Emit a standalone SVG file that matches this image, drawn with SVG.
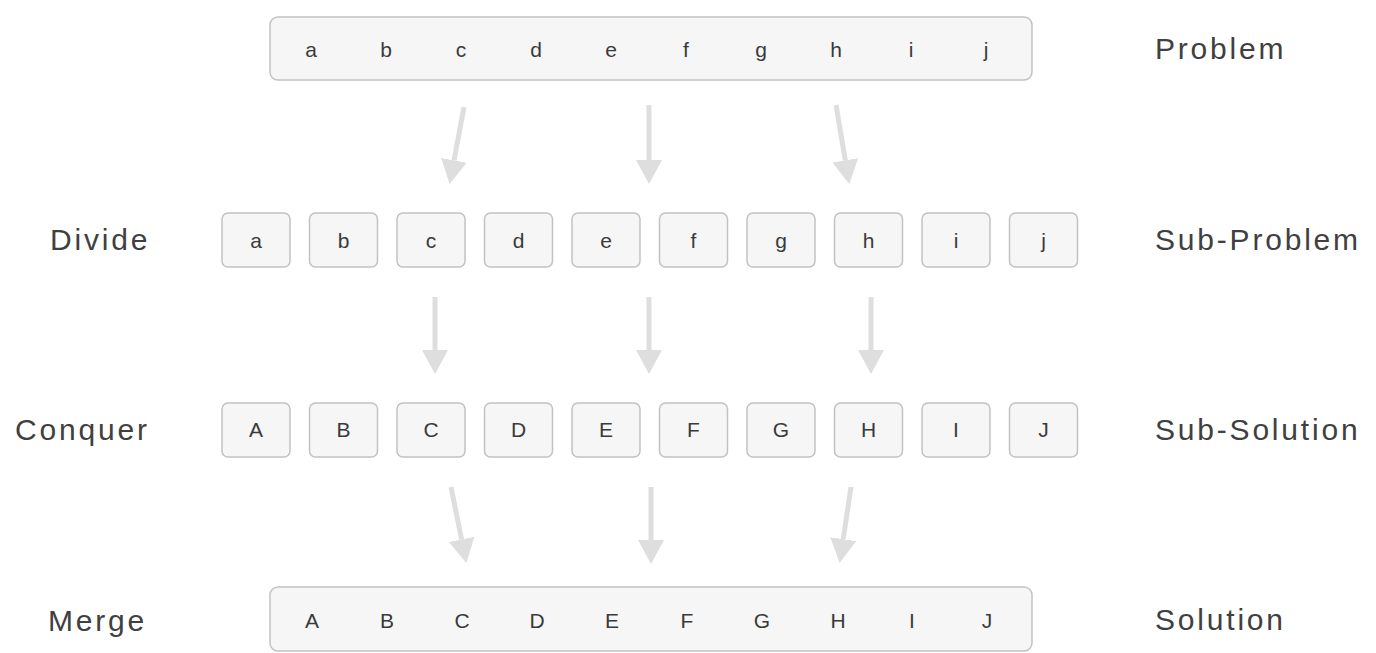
<svg xmlns="http://www.w3.org/2000/svg" width="1376" height="653" viewBox="0 0 1376 653">
<style>
.bg{fill:#ffffff}
.box{fill:#f6f6f6;stroke:#c2c2c2;stroke-width:1.5}
.ch{font-family:"Liberation Sans",Arial,sans-serif;font-size:21px;fill:#3a3a3a;text-anchor:middle}
.lab{font-family:"Liberation Sans",Arial,sans-serif;font-size:30px;letter-spacing:2.8px;fill:#404040}
.arr{stroke:#dedede;stroke-width:5;fill:none;marker-end:url(#ah)}
</style>
<defs>
<marker id="ah" markerUnits="userSpaceOnUse" markerWidth="24" markerHeight="26" refX="0" refY="13" orient="auto" viewBox="0 0 24 26">
<path d="M0,0 L24,13 L0,26 z" fill="#dedede"/>
</marker>
</defs>
<rect class="bg" x="0" y="0" width="1376" height="653"/>

<g id="labels">
<text class="lab" x="1155" y="59">Problem</text>
<text class="lab" x="50" y="250">Divide</text>
<text class="lab" x="1155" y="250">Sub-Problem</text>
<text class="lab" x="15" y="440">Conquer</text>
<text class="lab" x="1155" y="440">Sub-Solution</text>
<text class="lab" x="48" y="631">Merge</text>
<text class="lab" x="1155" y="630">Solution</text>
</g>

<g id="problem">
<rect class="box" x="270" y="17" width="762" height="63" rx="8"/>
<text class="ch" y="57"><tspan x="311">a</tspan><tspan x="386">b</tspan><tspan x="461">c</tspan><tspan x="536">d</tspan><tspan x="611">e</tspan><tspan x="686">f</tspan><tspan x="761">g</tspan><tspan x="836">h</tspan><tspan x="911">i</tspan><tspan x="986">j</tspan></text>
</g>

<g id="sub-problems">
<g id="sp-a"><rect class="box" x="222" y="213" width="68" height="54" rx="6"/><text class="ch" x="256" y="248">a</text></g>
<g id="sp-b"><rect class="box" x="309.5" y="213" width="68" height="54" rx="6"/><text class="ch" x="343.5" y="248">b</text></g>
<g id="sp-c"><rect class="box" x="397" y="213" width="68" height="54" rx="6"/><text class="ch" x="431" y="248">c</text></g>
<g id="sp-d"><rect class="box" x="484.5" y="213" width="68" height="54" rx="6"/><text class="ch" x="518.5" y="248">d</text></g>
<g id="sp-e"><rect class="box" x="572" y="213" width="68" height="54" rx="6"/><text class="ch" x="606" y="248">e</text></g>
<g id="sp-f"><rect class="box" x="659.5" y="213" width="68" height="54" rx="6"/><text class="ch" x="693.5" y="248">f</text></g>
<g id="sp-g"><rect class="box" x="747" y="213" width="68" height="54" rx="6"/><text class="ch" x="781" y="248">g</text></g>
<g id="sp-h"><rect class="box" x="834.5" y="213" width="68" height="54" rx="6"/><text class="ch" x="868.5" y="248">h</text></g>
<g id="sp-i"><rect class="box" x="922" y="213" width="68" height="54" rx="6"/><text class="ch" x="956" y="248">i</text></g>
<g id="sp-j"><rect class="box" x="1009.5" y="213" width="68" height="54" rx="6"/><text class="ch" x="1043.5" y="248">j</text></g>
</g>

<g id="sub-solutions">
<g id="ss-A"><rect class="box" x="222" y="403" width="68" height="54" rx="6"/><text class="ch" x="256" y="437">A</text></g>
<g id="ss-B"><rect class="box" x="309.5" y="403" width="68" height="54" rx="6"/><text class="ch" x="343.5" y="437">B</text></g>
<g id="ss-C"><rect class="box" x="397" y="403" width="68" height="54" rx="6"/><text class="ch" x="431" y="437">C</text></g>
<g id="ss-D"><rect class="box" x="484.5" y="403" width="68" height="54" rx="6"/><text class="ch" x="518.5" y="437">D</text></g>
<g id="ss-E"><rect class="box" x="572" y="403" width="68" height="54" rx="6"/><text class="ch" x="606" y="437">E</text></g>
<g id="ss-F"><rect class="box" x="659.5" y="403" width="68" height="54" rx="6"/><text class="ch" x="693.5" y="437">F</text></g>
<g id="ss-G"><rect class="box" x="747" y="403" width="68" height="54" rx="6"/><text class="ch" x="781" y="437">G</text></g>
<g id="ss-H"><rect class="box" x="834.5" y="403" width="68" height="54" rx="6"/><text class="ch" x="868.5" y="437">H</text></g>
<g id="ss-I"><rect class="box" x="922" y="403" width="68" height="54" rx="6"/><text class="ch" x="956" y="437">I</text></g>
<g id="ss-J"><rect class="box" x="1009.5" y="403" width="68" height="54" rx="6"/><text class="ch" x="1043.5" y="437">J</text></g>
</g>

<g id="solution">
<rect class="box" x="270" y="587" width="762" height="64" rx="8"/>
<text class="ch" y="628"><tspan x="312">A</tspan><tspan x="387">B</tspan><tspan x="462">C</tspan><tspan x="537">D</tspan><tspan x="612">E</tspan><tspan x="687">F</tspan><tspan x="762">G</tspan><tspan x="838">H</tspan><tspan x="912">I</tspan><tspan x="987">J</tspan></text>
</g>

<g id="connectors">
<path class="arr" d="M464,107 L454,160.4"/>
<path class="arr" d="M649,105 L649,160"/>
<path class="arr" d="M836,105 L845.3,160.3"/>
<path class="arr" d="M435,297 L435,350"/>
<path class="arr" d="M649,297 L649,350"/>
<path class="arr" d="M871,297 L871,350"/>
<path class="arr" d="M451,487 L461.6,539.4"/>
<path class="arr" d="M651,487 L651,540"/>
<path class="arr" d="M851,487 L843.2,539.2"/>
</g>
</svg>
